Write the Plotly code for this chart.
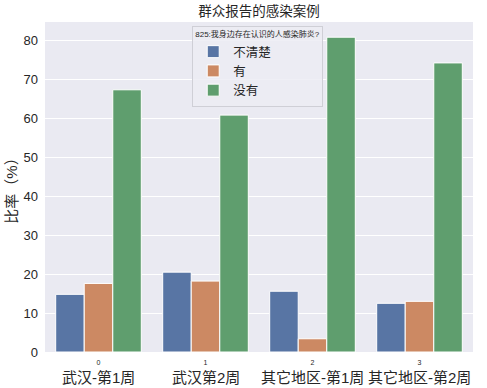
import plotly.graph_objects as go

categories = ["武汉-第1周", "武汉第2周", "其它地区-第1周", "其它地区-第2周"]
tick_numbers = ["0", "1", "2", "3"]
series_names = ["不清楚", "有", "没有"]
unsure = [14.8, 20.5, 15.6, 12.5]
yes = [17.6, 18.2, 3.4, 13.0]
no = [67.3, 60.8, 80.8, 74.2]
colors = ["#5875a4", "#cc8963", "#5f9e6e"]

FONT = "Liberation Sans, Noto Sans CJK SC, sans-serif"
x_idx = list(range(len(categories)))

fig = go.Figure()
for name, vals, col in zip(series_names, [unsure, yes, no], colors):
    fig.add_trace(go.Bar(
        x=x_idx, y=vals, name=name,
        marker=dict(color=col, line=dict(color="white", width=1)),
    ))

for i, c in enumerate(categories):
    fig.add_annotation(x=i, xref="x", y=0, yref="paper", yshift=-25,
                       text=c, showarrow=False, yanchor="middle",
                       font=dict(family=FONT, size=15, color="#262626"))

fig.update_layout(
    width=487, height=388,
    margin=dict(l=45, r=14, t=22, b=36),
    paper_bgcolor="white", plot_bgcolor="#eaeaf2",
    barmode="group", bargap=0.2, bargroupgap=0,
    font=dict(family=FONT, color="#262626"),
    title=dict(text="群众报告的感染案例", x=0.5, xref="paper", xanchor="center",
               y=1 - 11/388, yanchor="middle", automargin=False,
               font=dict(family=FONT, size=13.5, color="#262626")),
    showlegend=True,
    legend=dict(
        x=0.344, y=0.989, xanchor="left", yanchor="top",
        bgcolor="rgba(236,236,243,0.85)", bordercolor="#cfcfd6", borderwidth=1,
        title=dict(text="825:我身边存在认识的人感染肺炎?", side="top",
                   font=dict(family=FONT, size=8, color="#262626")),
        font=dict(family=FONT, size=12.5, color="#262626"),
        itemwidth=30, tracegroupgap=0,
    ),
    xaxis=dict(
        tickmode="array", tickvals=x_idx, ticktext=tick_numbers,
        range=[-0.5, 3.5], showgrid=False, zeroline=False,
        tickfont=dict(family=FONT, size=7, color="#262626"),
        ticks="", ticklen=0, automargin=False, ticklabelstandoff=5,
    ),
    yaxis=dict(
        range=[0, 84.7], dtick=10, gridcolor="white", gridwidth=1,
        zeroline=False, ticks="", automargin=False, ticklabelstandoff=6,
        tickfont=dict(family=FONT, size=13, color="#262626"),
        title=dict(text="比率（%）", font=dict(family=FONT, size=15, color="#262626"), standoff=2),
    ),
)

fig.write_html("out.html", config={"displayModeBar": False},
               post_script="document.body.style.margin='0';document.body.style.padding='0';")
